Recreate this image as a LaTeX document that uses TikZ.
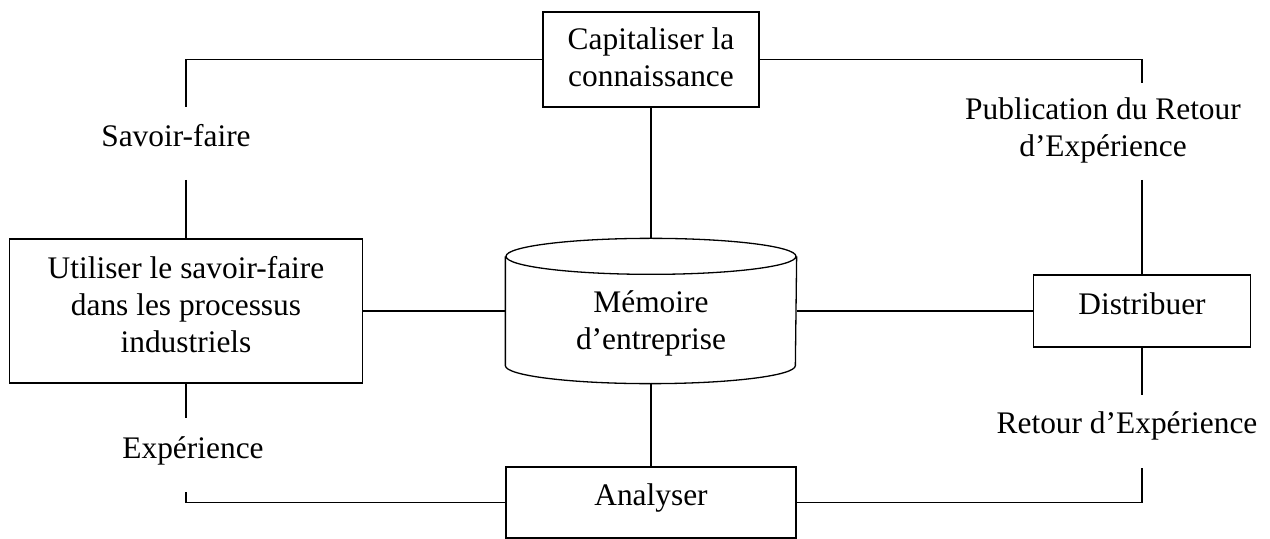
\documentclass[tikz,border=0pt]{standalone}
\usepackage{fontspec}
\setmainfont{Liberation Serif}
\newcommand\diagfont{\fontsize{31.4bp}{37bp}\selectfont}
\begin{document}
\begin{tikzpicture}[x=1bp,y=-1bp,line width=1.3bp,
  box/.style={draw,rectangle,inner sep=0pt,align=center,font=\diagfont,text height=22bp,text depth=8bp},
  lbl/.style={rectangle,inner sep=0pt,align=center,font=\diagfont,text height=22bp,text depth=8bp}]
\useasboundingbox (0,0) rectangle (1270,539);

% boxes
\node[box,minimum width=216bp,minimum height=95bp,text height=63bp] (cap) at (651,59.5) {Capitaliser la\\connaissance};
\node[box,minimum width=353bp,minimum height=144bp,text height=91bp] (util) at (186,311) {Utiliser le savoir-faire\\dans les processus\\industriels};
\node[box,minimum width=217bp,minimum height=72bp,text height=16bp] (dist) at (1142,311) {Distribuer};
\node[box,minimum width=290bp,minimum height=71bp,text height=13bp] (anal) at (651,502.5) {Analyser};
\node[lbl,minimum width=290bp,minimum height=144bp,text height=85bp] (mem) at (651,311) {Mémoire\\d’entreprise};

% cylinder outline
\draw ([yshift=-18bp]mem.north) ellipse [x radius=145bp, y radius=18bp];
\draw ([yshift=-18bp]mem.north west) -- ([yshift=18bp]mem.south west)
  arc[start angle=180,end angle=360,x radius=145bp,y radius=18bp]
  -- ([yshift=-18bp]mem.north east);

% labels
\node[lbl] (sf) at (176,140) {Savoir-faire};
\node[lbl] (exp) at (193,451) {Expérience};
\node[lbl,text height=59bp] (pub) at (1103,131.5) {Publication du Retour\\d’Expérience};
\node[lbl] (ret) at (1127,426) {Retour d’Expérience};

% free ends
\coordinate (sfA) at (186,107);
\coordinate (sfB) at (186,180);
\coordinate (expA) at (186,418);
\coordinate (expB) at (186,492);
\coordinate (pubA) at (1142,83);
\coordinate (pubB) at (1142,180);
\coordinate (retA) at (1142,395);
\coordinate (retB) at (1142,468);

% connectors
\draw (cap.west) -| (sfA);
\draw (sfB) -- (util.north);
\draw (util.south) -- (expA);
\draw (expB) |- (anal.west);
\draw (cap.south) -- (mem.north);
\draw (util.east) -- (mem.west);
\draw (mem.east) -- (dist.west);
\draw (mem.south) -- (anal.north);
\draw (cap.east) -| (pubA);
\draw (pubB) -- (dist.north);
\draw (dist.south) -- (retA);
\draw (retB) |- (anal.east);
\end{tikzpicture}
\end{document}
